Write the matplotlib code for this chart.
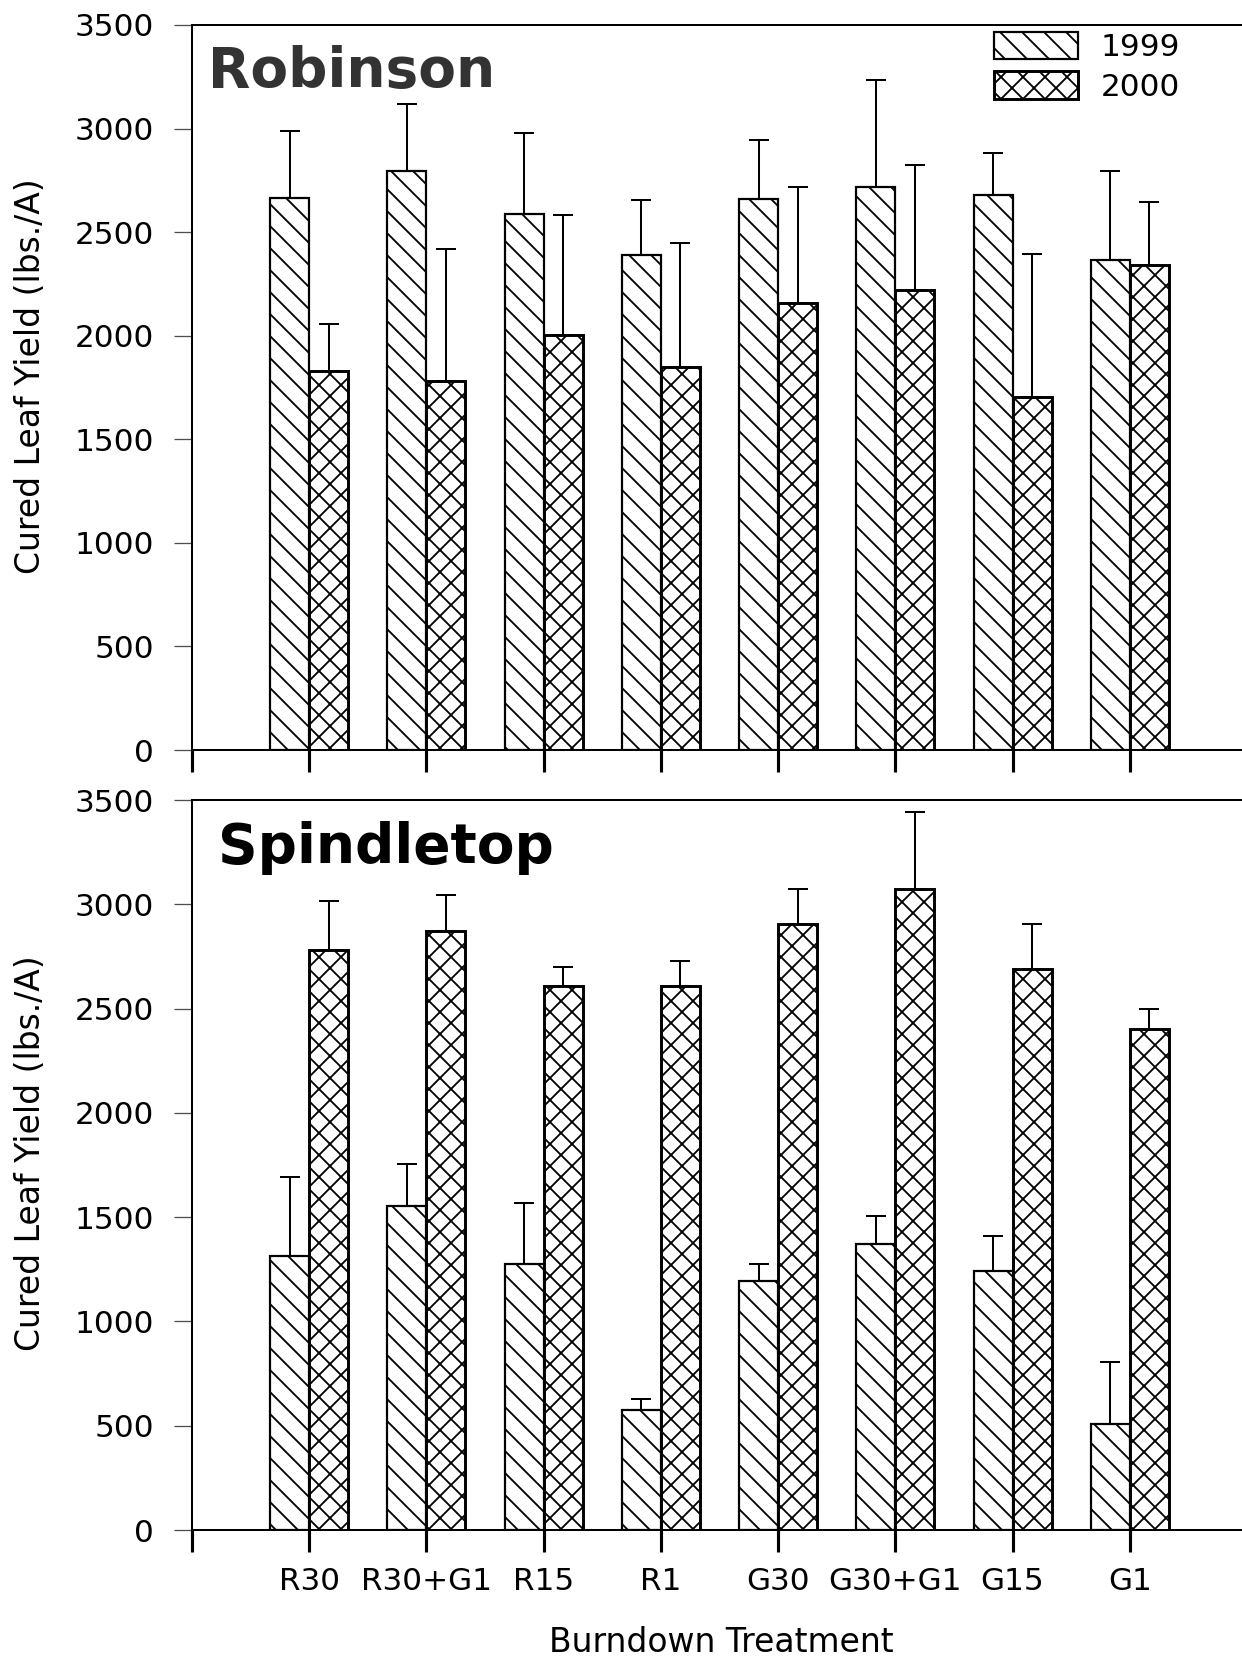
import matplotlib
matplotlib.use("Agg")
import matplotlib.pyplot as plt
import matplotlib.patches as mpatches
import numpy as np

# treatments on the x axis
treatments = ["R30", "R30+G1", "R15", "R1", "G30", "G30+G1", "G15", "G1"]
years = ["1999", "2000"]

# Robinson - mean cured leaf yield and upper error (lbs./A)
rob_1999 = [2667, 2794, 2590, 2388, 2662, 2718, 2678, 2367]
rob_1999_err = [320, 323, 389, 269, 283, 515, 204, 428]
rob_2000 = [1828, 1780, 2005, 1849, 2160, 2222, 1704, 2340]
rob_2000_err = [230, 640, 576, 599, 558, 604, 692, 306]

# Spindletop
spn_1999 = [1316, 1554, 1273, 574, 1195, 1372, 1243, 508]
spn_1999_err = [377, 202, 297, 53, 79, 135, 166, 296]
spn_2000 = [2783, 2873, 2607, 2607, 2905, 3071, 2688, 2401]
spn_2000_err = [231, 172, 90, 123, 168, 370, 217, 98]

yticks = [0, 500, 1000, 1500, 2000, 2500, 3000, 3500]

DPI = 132
plt.rcParams["hatch.linewidth"] = 1.0
plt.rcParams["font.family"] = "DejaVu Sans"

HATCH_99 = "\\\\"   # back-diagonal
HATCH_00 = "xx"     # crosshatch

fig = plt.figure(figsize=(1242 / DPI, 1659 / DPI), dpi=DPI)
ax1 = fig.add_axes([192 / 1242, 1 - 750 / 1659, 1055 / 1242, 725 / 1659])
ax2 = fig.add_axes([192 / 1242, 1 - 1530 / 1659, 1055 / 1242, 730 / 1659])

x = np.arange(1, len(treatments) + 1)
w = 0.333


def draw_panel(ax, v1, e1, v2, e2, title, title_color, title_x):
    ax.bar(x - w / 2, v1, w, color="white", edgecolor="black",
           linewidth=1.2, hatch=HATCH_99, zorder=2)
    ax.bar(x + w / 2, v2, w, color="white", edgecolor="black",
           linewidth=1.6, hatch=HATCH_00, zorder=2)
    # one-sided error bars
    ax.errorbar(x - w / 2, v1, yerr=[np.zeros(len(v1)), e1], fmt="none",
                ecolor="black", elinewidth=1.1, capsize=5.2, capthick=1.1, zorder=3)
    ax.errorbar(x + w / 2, v2, yerr=[np.zeros(len(v2)), e2], fmt="none",
                ecolor="black", elinewidth=1.1, capsize=5.2, capthick=1.1, zorder=3)

    ax.set_xlim(0, 9)
    ax.set_ylim(0, 3500)
    ax.set_yticks(yticks)
    ax.set_xticks(np.arange(0, len(treatments) + 1))
    ax.tick_params(axis="y", direction="out", length=9.8, width=0.7,
                   color="0.3", pad=11, labelsize=17)
    ax.tick_params(axis="x", direction="out", length=12, width=1.7,
                   pad=8, labelsize=17)
    ax.spines["right"].set_visible(False)
    for s in ["left", "top", "bottom"]:
        ax.spines[s].set_linewidth(1.1)

    ax.set_ylabel("Cured Leaf Yield (lbs./A)", fontsize=18)
    ax.yaxis.set_label_coords(-0.137, 0.516)
    ax.text(title_x, 3200, title, fontsize=30, fontweight="bold",
            color=title_color, ha="left", va="baseline")


draw_panel(ax1, rob_1999, rob_1999_err, rob_2000, rob_2000_err, "Robinson", "#333333", 0.14)
draw_panel(ax2, spn_1999, spn_1999_err, spn_2000, spn_2000_err, "Spindletop", "black", 0.22)

ax1.tick_params(axis="x", labelbottom=False)
ax2.set_xticklabels([""] + treatments)
ax2.set_xlabel("Burndown Treatment", fontsize=18)
ax2.xaxis.set_label_coords(0.5014, -0.132)

handles = [mpatches.Patch(facecolor="white", edgecolor="black", hatch=HATCH_99, linewidth=1.2),
           mpatches.Patch(facecolor="white", edgecolor="black", hatch=HATCH_00, linewidth=1.6)]
ax1.legend(handles, years, loc="upper left", bbox_to_anchor=(994 / 1242, 0.981),
           bbox_transform=fig.transFigure, frameon=False, fontsize=17,
           handlelength=2.68, handleheight=1.0, handletextpad=0.75,
           labelspacing=0.3, borderpad=0, borderaxespad=0)

fig.savefig("out.png", dpi=DPI)
